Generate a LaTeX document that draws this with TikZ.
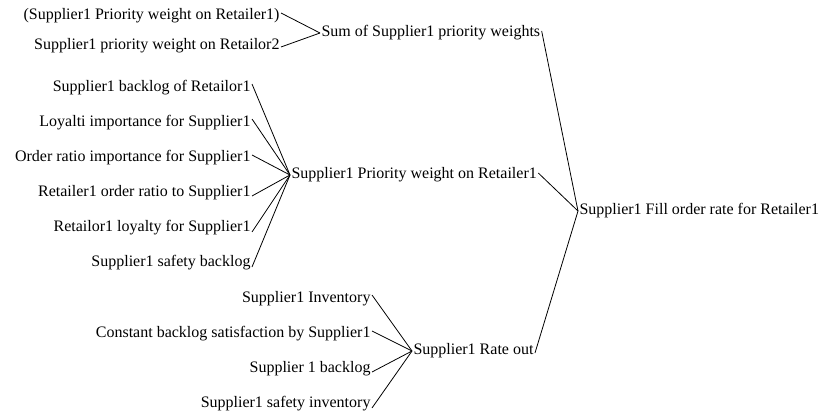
\documentclass[tikz,border=0pt]{standalone}
\usepackage{fontspec}
\setmainfont{Liberation Serif}
\begin{document}
\begin{tikzpicture}[x=1pt,y=-1pt,
  lbl/.style={inner sep=1.5pt,outer sep=0pt,font=\fontsize{16}{19}\selectfont},
  src/.style={lbl,anchor=east},
  dst/.style={lbl,anchor=west},
  link/.style={line width=0.8pt,black}]
\useasboundingbox (0,0) rectangle (820,420);
% targets
\node[dst] (sum) at (320,33) {Sum of Supplier1 priority weights};
\node[dst] (prio) at (290,175) {Supplier1 Priority weight on Retailer1};
\node[dst] (rate) at (412,351) {Supplier1 Rate out};
\node[dst] (fill) at (578,211) {Supplier1 Fill order rate for Retailer1};
% group 1
\node[src] (g1a) at (281,16) {(Supplier1 Priority weight on Retailer1)};
\node[src] (g1b) at (281,46) {Supplier1 priority weight on Retailor2};
% group 2
\node[src] (g2a) at (252,88) {Supplier1 backlog of Retailor1};
\node[src] (g2b) at (252,123) {Loyalti importance for Supplier1};
\node[src] (g2c) at (252,158) {Order ratio importance for Supplier1};
\node[src] (g2d) at (252,193) {Retailer1 order ratio to Supplier1};
\node[src] (g2e) at (252,228) {Retailor1 loyalty for Supplier1};
\node[src] (g2f) at (252,263) {Supplier1 safety backlog};
% group 3
\node[src] (g3a) at (372,299) {Supplier1 Inventory};
\node[src] (g3b) at (372,334) {Constant backlog satisfaction by Supplier1};
\node[src] (g3c) at (372,369) {Supplier 1 backlog};
\node[src] (g3d) at (372,404) {Supplier1 safety inventory};
% connectors
\draw[link] ([yshift=3pt]g1a.east) -- (sum.west);
\draw[link] ([yshift=-1pt]g1b.east) -- (sum.west);
\foreach \n/\s in {g2a/4,g2b/4,g2c/3,g2d/-3,g2e/-4,g2f/-4}
  \draw[link] ([yshift=\s pt]\n.east) -- (prio.west);
\foreach \n/\s in {g3a/4,g3b/3,g3c/-3,g3d/-4}
  \draw[link] ([yshift=\s pt]\n.east) -- (rate.west);
\draw[link] ([yshift=2pt]sum.east) -- (fill.west);
\draw[link] ([yshift=2pt]prio.east) -- (fill.west);
\draw[link] ([yshift=-2pt]rate.east) -- (fill.west);
\end{tikzpicture}
\end{document}
